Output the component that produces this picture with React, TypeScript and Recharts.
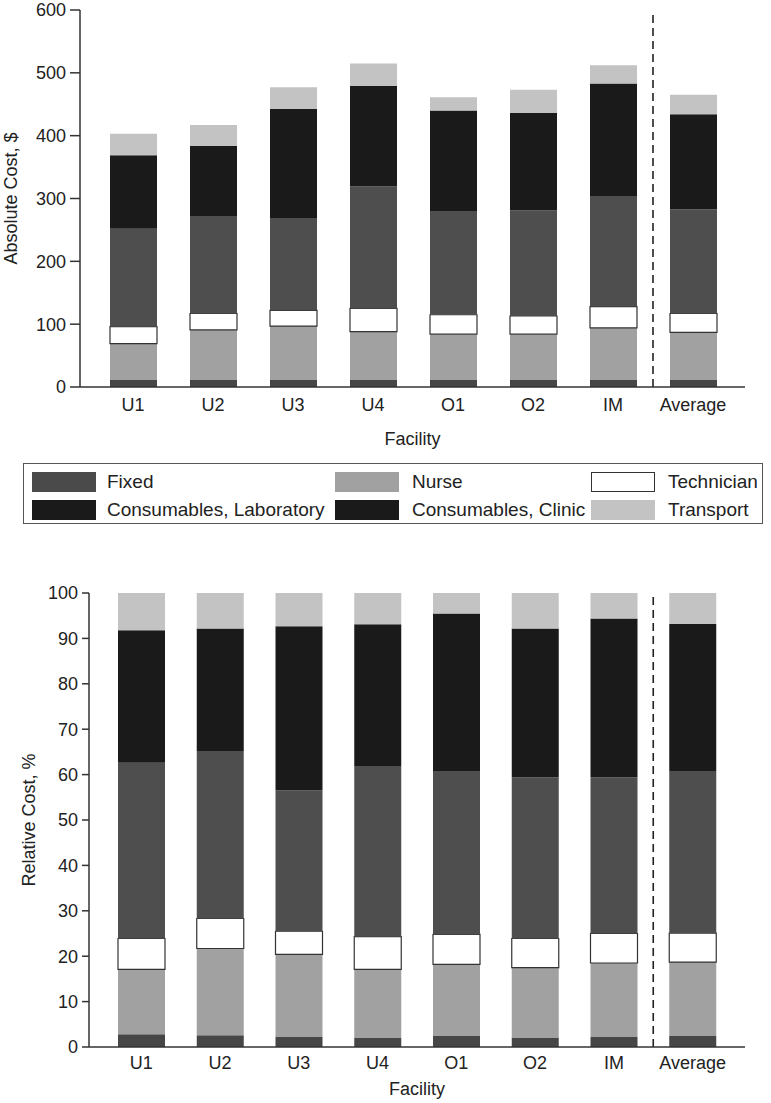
import React from 'react';
import { BarChart, Bar, XAxis, YAxis, ReferenceLine } from 'recharts';

const categories = ['U1', 'U2', 'U3', 'U4', 'O1', 'O2', 'IM', 'Average'];

// absolute cost, $
const absFixed = [11, 11, 11, 11, 11, 11, 11, 11];
const absNurse = [58, 80, 86, 77, 73, 73, 83, 76];
const absTechnician = [27, 26, 25, 37, 31, 29, 34, 30];
const absLab = [156, 155, 147, 194, 165, 168, 176, 166];
const absClinic = [117, 112, 174, 160, 160, 155, 179, 151];
const absTransport = [34, 33, 34, 36, 21, 37, 29, 31];

// relative cost, %
const relFixed = [2.8, 2.6, 2.2, 2.0, 2.4, 2.1, 2.2, 2.4];
const relNurse = [14.3, 19.1, 18.2, 15.1, 15.8, 15.4, 16.3, 16.3];
const relTechnician = [6.8, 6.6, 5.1, 7.2, 6.6, 6.4, 6.5, 6.4];
const relLab = [38.7, 36.9, 31.0, 37.6, 36.0, 35.5, 34.4, 35.7];
const relClinic = [29.2, 27.0, 36.2, 31.2, 34.7, 32.8, 35.0, 32.4];
const relTransport = [8.2, 7.8, 7.3, 6.9, 4.5, 7.8, 5.6, 6.8];

const absTicks = [0, 100, 200, 300, 400, 500, 600];
const relTicks = [0, 10, 20, 30, 40, 50, 60, 70, 80, 90, 100];

const FONT = '"Liberation Sans", Arial, Helvetica, sans-serif';
const INK = '#222';

const absRows = categories.map((name, i) => ({
  name,
  fixed: absFixed[i],
  nurse: absNurse[i],
  technician: absTechnician[i],
  lab: absLab[i],
  clinic: absClinic[i],
  transport: absTransport[i],
}));

const relRows = categories.map((name, i) => ({
  name,
  fixed: relFixed[i],
  nurse: relNurse[i],
  technician: relTechnician[i],
  lab: relLab[i],
  clinic: relClinic[i],
  transport: relTransport[i],
}));

// stack order bottom -> top
const stack = [
  { key: 'fixed', fill: '#464646', stroke: 'none' },
  { key: 'nurse', fill: '#a1a1a1', stroke: 'none' },
  { key: 'technician', fill: '#ffffff', stroke: '#333' },
  { key: 'lab', fill: '#4e4e4e', stroke: 'none' },
  { key: 'clinic', fill: '#1a1a1a', stroke: 'none' },
  { key: 'transport', fill: '#c3c3c3', stroke: 'none' },
];

const legendItems = [
  { label: 'Fixed', fill: '#4a4a4a' },
  { label: 'Nurse', fill: '#a1a1a1' },
  { label: 'Technician', fill: '#ffffff', border: true },
  { label: 'Consumables, Laboratory', fill: '#1a1a1a' },
  { label: 'Consumables, Clinic', fill: '#1a1a1a' },
  { label: 'Transport', fill: '#c3c3c3' },
];

const legendCols = [{ sw: 32, tx: 107 }, { sw: 335, tx: 412 }, { sw: 591, tx: 668 }];

interface StackProps {
  rows: any[];
  ticks: number[];
  domain: [number, number];
  height: number;
  top: number;
  yWidth: number;
  yLabel: string;
  yLabelOffset: number;
  yTickSize: number;
  xAxisHeight: number;
  xTickMargin: number;
  pad: { left: number; right: number };
  barSize: number;
}

const StackChart: React.FC<StackProps> = p => (
  <BarChart
    width={771}
    height={p.height}
    data={p.rows}
    margin={{ top: p.top, right: 26, left: 0, bottom: 0 }}
    barCategoryGap={0}
  >
    <XAxis
      dataKey="name"
      padding={p.pad}
      tickLine={false}
      tickSize={0}
      tickMargin={p.xTickMargin}
      height={p.xAxisHeight}
      axisLine={{ stroke: '#333', strokeWidth: 1.5 }}
      tick={{ fontSize: 18, fill: INK, fontFamily: FONT }}
      label={{
        value: 'Facility',
        position: 'insideBottom',
        offset: 6,
        style: { fontSize: 18, fill: INK, fontFamily: FONT },
      }}
    />
    <YAxis
      width={p.yWidth}
      domain={p.domain}
      ticks={p.ticks}
      interval={0}
      tickSize={p.yTickSize}
      tickMargin={4}
      axisLine={{ stroke: '#333', strokeWidth: 1.5 }}
      tickLine={{ stroke: '#333', strokeWidth: 1.5 }}
      tick={{ fontSize: 18, fill: INK, fontFamily: FONT }}
      label={{
        value: p.yLabel,
        angle: -90,
        position: 'insideLeft',
        offset: p.yLabelOffset,
        style: { fontSize: 18, fill: INK, fontFamily: FONT, textAnchor: 'middle' },
      }}
    />
    {stack.map(s => (
      <Bar
        key={s.key}
        dataKey={s.key}
        stackId="cost"
        fill={s.fill}
        stroke={s.stroke}
        strokeWidth={s.stroke === 'none' ? 0 : 1.2}
        barSize={p.barSize}
        isAnimationActive={false}
      />
    ))}
    {/* dashed divider between the facilities and the average */}
    <ReferenceLine
      x="Average"
      position="start"
      stroke="#222"
      strokeWidth={1.6}
      strokeDasharray="8 5"
    />
  </BarChart>
);

export default function App() {
  return (
    <div
      style={{
        position: 'absolute',
        left: 0,
        top: 0,
        width: 771,
        height: 1103,
        background: '#fff',
        fontFamily: FONT,
      }}
    >
      <div style={{ position: 'absolute', left: 0, top: 0 }}>
        <StackChart
          rows={absRows}
          ticks={absTicks}
          domain={[0, 600]}
          height={451}
          top={10}
          yWidth={80}
          yLabel="Absolute Cost, $"
          yLabelOffset={11}
          yTickSize={10}
          xAxisHeight={64}
          xTickMargin={11}
          pad={{ left: 13, right: 12 }}
          barSize={47}
        />
      </div>

      <div
        style={{
          position: 'absolute',
          left: 23,
          top: 463,
          width: 740,
          height: 61,
          border: '1.5px solid #555',
          boxSizing: 'border-box',
        }}
      />
      {legendItems.map((it, i) => {
        const col = legendCols[i % 3];
        const row = Math.floor(i / 3);
        const y = 472 + row * 28;
        return (
          <React.Fragment key={it.label}>
            <div
              style={{
                position: 'absolute',
                left: col.sw,
                top: y,
                width: 64,
                height: 20,
                background: it.fill,
                border: it.border ? '1px solid #333' : 'none',
                boxSizing: 'border-box',
              }}
            />
            <div
              style={{
                position: 'absolute',
                left: col.tx,
                top: y - 2,
                height: 24,
                lineHeight: '24px',
                fontSize: 19,
                color: INK,
                whiteSpace: 'nowrap',
              }}
            >
              {it.label}
            </div>
          </React.Fragment>
        );
      })}

      <div style={{ position: 'absolute', left: 0, top: 560 }}>
        <StackChart
          rows={relRows}
          ticks={relTicks}
          domain={[0, 100]}
          height={541}
          top={33}
          yWidth={89}
          yLabel="Relative Cost, %"
          yLabelOffset={29}
          yTickSize={7}
          xAxisHeight={54}
          xTickMargin={9}
          pad={{ left: 13, right: 13 }}
          barSize={47}
        />
      </div>
    </div>
  );
}
